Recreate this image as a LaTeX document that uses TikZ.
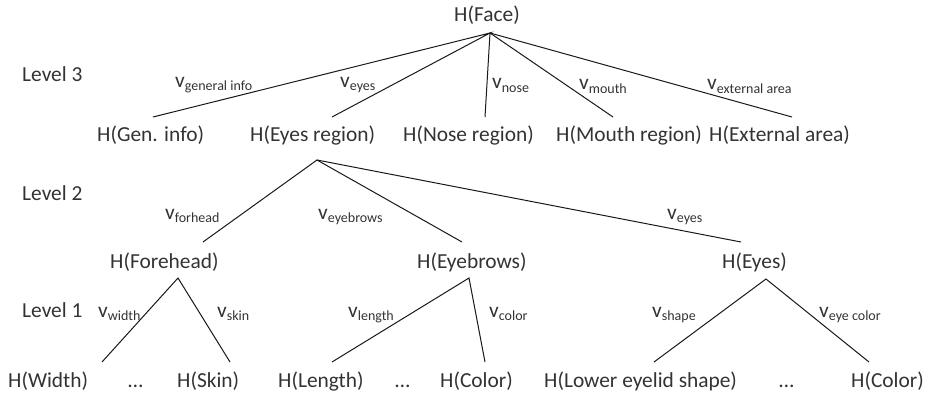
\documentclass[tikz,border=0pt]{standalone}
\usepackage{fontspec}
\setmainfont{Carlito}
\begin{document}
\begin{tikzpicture}[x=1pt,y=-1pt,
  txt/.style={anchor=base west,inner sep=0pt,text=black!80,font=\fontsize{21.4}{24}\selectfont},
  lbl/.style={anchor=base west,inner sep=0pt,text=black!80,font=\fontsize{21.4}{24}\selectfont},
  edge/.style={line width=1pt,black!90}]
\newcommand{\sbs}[1]{v\raisebox{-3.5pt}{\fontsize{14}{16}\selectfont #1}}
\useasboundingbox (0,0) rectangle (928,393);
% level labels
\node[txt] (l3) at (22,82) {Level 3};
\node[txt] (l2) at (22,200) {Level 2};
\node[txt] (l1) at (22,317) {Level 1};
% nodes
\node[txt] (face) at (454,22) {H(Face)};
\node[txt] (gen) at (97,142) {H(Gen. info)};
\node[txt] (eyer) at (250,142) {H(Eyes region)};
\node[txt] (nose) at (403,142) {H(Nose region)};
\node[txt] (mouth) at (556,142) {H(Mouth region)};
\node[txt] (ext) at (709,142) {H(External area)};
\node[txt] (fore) at (110,268) {H(Forehead)};
\node[txt] (brows) at (417,268) {H(Eyebrows)};
\node[txt] (eyes) at (722,268) {H(Eyes)};
\node[txt] (width) at (8,387) {H(Width)};
\node[txt] (dots1) at (128,387) {…};
\node[txt] (skin) at (177,387) {H(Skin)};
\node[txt] (length) at (278,387) {H(Length)};
\node[txt] (dots2) at (395,387) {…};
\node[txt] (color1) at (440,387) {H(Color)};
\node[txt] (lower) at (544,387) {H(Lower eyelid shape)};
\node[txt] (dots3) at (779,387) {…};
\node[txt] (color2) at (851,387) {H(Color)};
% branch points and line ends
\coordinate (faceB) at (490,33);
\coordinate (genT) at (153,117);
\coordinate (eyerT) at (332,117);
\coordinate (noseT) at (485,117);
\coordinate (mouthT) at (613,117);
\coordinate (extT) at (792,117);
\coordinate (eyerB) at (317,160);
\coordinate (foreT) at (203,242);
\coordinate (browsT) at (462,242);
\coordinate (eyesT) at (741,242);
\coordinate (foreB) at (178,278);
\coordinate (widthT) at (102,362);
\coordinate (skinT) at (230,362);
\coordinate (browsB) at (469,278);
\coordinate (lengthT) at (332,362);
\coordinate (colorAT) at (485,362);
\coordinate (eyesB) at (766,279);
\coordinate (lowerT) at (654,362);
\coordinate (colorBT) at (869,362);
% connectors
\draw[edge] (genT) -- (faceB) -- (eyerT);
\draw[edge] (noseT) -- (faceB) -- (mouthT);
\draw[edge] (faceB) -- (extT);
\draw[edge] (foreT) -- (eyerB) -- (browsT);
\draw[edge] (eyerB) -- (eyesT);
\draw[edge] (widthT) -- (foreB) -- (skinT);
\draw[edge] (lengthT) -- (browsB) -- (colorAT);
\draw[edge] (lowerT) -- (eyesB) -- (colorBT);
% edge labels
\node[lbl] (vgen) at (175,87.5) {\sbs{general info}};
\node[lbl] (veyes) at (340,87.5) {\sbs{eyes}};
\node[lbl] (vnose) at (492,89) {\sbs{nose}};
\node[lbl] (vmouth) at (579,90) {\sbs{mouth}};
\node[lbl] (vext) at (707,90) {\sbs{external area}};
\node[lbl] (vfore) at (165,219) {\sbs{forhead}};
\node[lbl] (vbrows) at (318,219) {\sbs{eyebrows}};
\node[lbl] (veyes2) at (667,219) {\sbs{eyes}};
\node[lbl] (vwidth) at (98,317) {\sbs{width}};
\node[lbl] (vskin) at (217,317) {\sbs{skin}};
\node[lbl] (vlength) at (348,317) {\sbs{length}};
\node[lbl] (vcolor) at (489,317) {\sbs{color}};
\node[lbl] (vshape) at (652,317) {\sbs{shape}};
\node[lbl] (veyecol) at (819,317) {\sbs{eye color}};
\end{tikzpicture}
\end{document}
